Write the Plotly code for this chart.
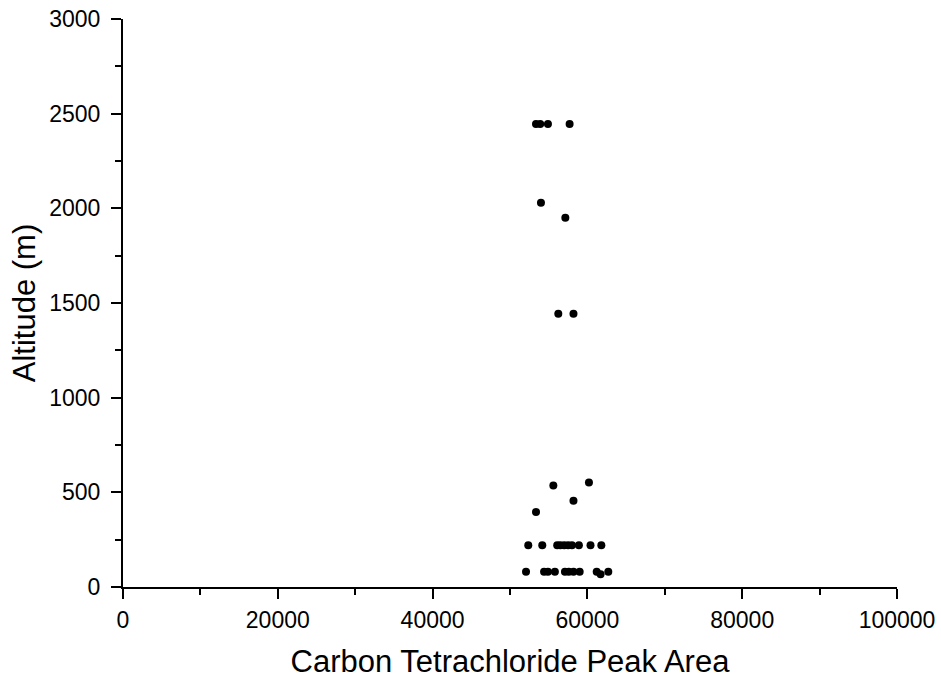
import plotly.graph_objects as go

# Carbon tetrachloride peak area vs altitude
peak_area = [
    53360, 53900, 54900, 57700,            # ~2446 m
    54000, 57150,                          # ~2000 m
    56240, 58200,                          # ~1443 m
    53360, 55600, 58200, 60200,            # ~400-550 m
    52360, 54170, 56100, 56500, 57000, 57500, 58000, 58900, 60400, 61800,  # ~220 m
    52070, 54400, 54900, 55800, 57100, 57600, 58200, 59000, 61200, 61700, 62700,  # ~80 m
]
altitude = [
    2446, 2446, 2446, 2446,
    2029, 1950,
    1443, 1443,
    396, 536, 456, 552,
    220, 220, 220, 220, 220, 220, 220, 220, 220, 220,
    80, 80, 80, 80, 80, 80, 80, 80, 80, 68, 80,
]

x_title = "Carbon Tetrachloride Peak Area"
y_title = "Altitude (m)"

font_family = "Liberation Sans, Arial, sans-serif"

fig = go.Figure(go.Scatter(
    x=peak_area, y=altitude, mode="markers",
    marker=dict(color="black", size=8, line=dict(width=0)),
))

axis_common = dict(
    showline=True, linecolor="black", linewidth=2,
    ticks="outside", ticklen=10, tickwidth=2, tickcolor="black",
    showgrid=False, zeroline=False, mirror=False,
    tickformat="d",
    tickfont=dict(family=font_family, size=23, color="black"),
)

fig.update_xaxes(
    range=[0, 100000], tick0=0, dtick=20000,
    minor=dict(dtick=10000, ticks="outside", ticklen=6, tickwidth=2, tickcolor="black"),
    title=dict(text=x_title, font=dict(family=font_family, size=31, color="black"), standoff=21),
    ticklabelstandoff=1,
    **axis_common,
)
fig.update_yaxes(
    range=[0, 3000], tick0=0, dtick=500,
    minor=dict(dtick=250, ticks="outside", ticklen=6, tickwidth=2, tickcolor="black"),
    title=dict(text=y_title, font=dict(family=font_family, size=31, color="black"), standoff=4),
    ticklabelstandoff=6,
    **axis_common,
)

fig.update_layout(
    width=941, height=679,
    margin=dict(l=123, r=44, t=19, b=92, autoexpand=False),
    paper_bgcolor="white", plot_bgcolor="white",
    showlegend=False,
    font=dict(family=font_family, color="black"),
)

fig.write_html(
    "out.html",
    config={"displayModeBar": False},
    post_script="document.body.style.margin='0';document.body.style.overflow='hidden';",
)
